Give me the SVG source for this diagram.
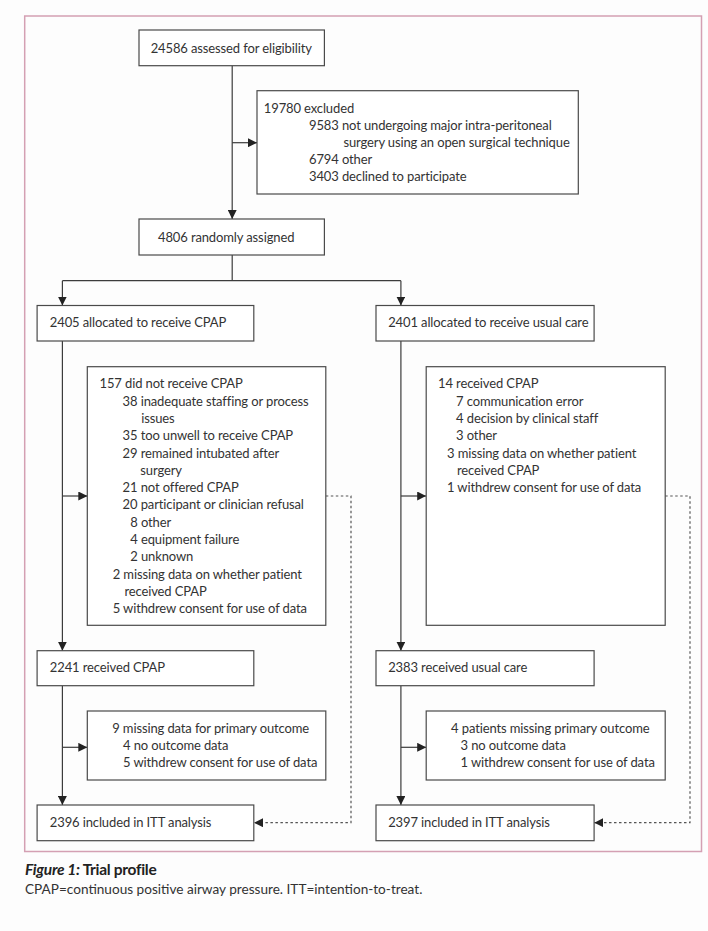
<svg xmlns="http://www.w3.org/2000/svg" width="708" height="931" viewBox="0 0 708 931">
<defs>
<style>
.box{fill:#ffffff;stroke:#4a4a4a;stroke-width:1.2}
.t{font-family:"Lato","Liberation Sans",sans-serif;font-size:13px;fill:#333333;letter-spacing:-0.12px}
.ln{fill:none;stroke:#3c3c3c;stroke-width:1.2}
.ds{fill:none;stroke:#555555;stroke-width:1.2;stroke-dasharray:2.5 2.5}
.cap{font-family:"Lato","Liberation Sans",sans-serif;font-size:13.6px;fill:#333333}
.ttl{font-family:"Lato","Liberation Sans",sans-serif;font-size:15.5px;font-weight:bold;fill:#222222;letter-spacing:-0.3px}
</style>
<marker id="ah" markerUnits="userSpaceOnUse" viewBox="0 0 9 9" refX="9" refY="4.5" markerWidth="9" markerHeight="9" orient="auto">
<path d="M0,0 L9,4.5 L0,9 Z" fill="#222222"/>
</marker>
</defs>
<rect x="0" y="0" width="708" height="931" fill="#fdfdfd"/>
<rect x="24.7" y="16" width="676.8" height="835.5" fill="#fdfdfd" stroke="#d4a0b3" stroke-width="1.5"/>

<g id="connectors">
<path class="ln" d="M232.2 65.7 V219" marker-end="url(#ah)"/>
<path class="ln" d="M232.2 142.7 H257" marker-end="url(#ah)"/>
<path class="ln" d="M232.2 255 V280.7 M62.4 280.7 H400.9"/>
<path class="ln" d="M62.4 280.7 V305.5" marker-end="url(#ah)"/>
<path class="ln" d="M400.9 280.7 V305.5" marker-end="url(#ah)"/>
<path class="ln" d="M62.4 341 V650.7" marker-end="url(#ah)"/>
<path class="ln" d="M62.4 496 H87.3" marker-end="url(#ah)"/>
<path class="ln" d="M62.4 685.7 V805" marker-end="url(#ah)"/>
<path class="ln" d="M62.4 747.3 H87.3" marker-end="url(#ah)"/>
<path class="ln" d="M400.9 341 V650.7" marker-end="url(#ah)"/>
<path class="ln" d="M400.9 496 H426.2" marker-end="url(#ah)"/>
<path class="ln" d="M400.9 685.7 V805" marker-end="url(#ah)"/>
<path class="ln" d="M400.9 747.3 H426.2" marker-end="url(#ah)"/>
<path class="ds" d="M325.8 496 H351 V822.7 H254" marker-end="url(#ah)"/>
<path class="ds" d="M665.2 496 H690 V822.7 H594.3" marker-end="url(#ah)"/>
</g>

<g id="assessed">
<rect class="box" x="139" y="30" width="185.4" height="35.7"/>
<text class="t" x="150.7" y="53">24586 assessed for eligibility</text>
</g>

<g id="excluded">
<rect class="box" x="257" y="90.7" width="321.3" height="103.3"/>
<text class="t" x="263.8" y="112.5">19780 excluded</text>
<text class="t" x="309" y="129.5">9583 not undergoing major intra-peritoneal</text>
<text class="t" x="343.4" y="146.5">surgery using an open surgical technique</text>
<text class="t" x="309" y="163.5">6794 other</text>
<text class="t" x="309" y="180.5">3403 declined to participate</text>
</g>

<g id="randomised">
<rect class="box" x="139" y="219" width="185.4" height="36"/>
<text class="t" x="158" y="241.7">4806 randomly assigned</text>
</g>

<g id="alloc-cpap">
<rect class="box" x="37.1" y="305.5" width="216.7" height="35.5"/>
<text class="t" x="49.8" y="326.7">2405 allocated to receive CPAP</text>
</g>

<g id="alloc-usual">
<rect class="box" x="376" y="305.5" width="218.1" height="35.5"/>
<text class="t" x="388.2" y="326.7">2401 allocated to receive usual care</text>
</g>

<g id="not-received">
<rect class="box" x="87.3" y="366.7" width="238.5" height="258.6"/>
<text class="t" x="99.5" y="388.3">157 did not receive CPAP</text>
<text class="t" x="122.6" y="405.6">38 inadequate staffing or process</text>
<text class="t" x="141.2" y="422.9">issues</text>
<text class="t" x="122.6" y="440.2">35 too unwell to receive CPAP</text>
<text class="t" x="122.6" y="457.5">29 remained intubated after</text>
<text class="t" x="140.3" y="474.8">surgery</text>
<text class="t" x="122.6" y="492.1">21 not offered CPAP</text>
<text class="t" x="122.6" y="509.4">20 participant or clinician refusal</text>
<text class="t" x="130.3" y="526.7">8 other</text>
<text class="t" x="130.3" y="544">4 equipment failure</text>
<text class="t" x="130.3" y="561.3">2 unknown</text>
<text class="t" x="112.7" y="578.6">2 missing data on whether patient</text>
<text class="t" x="124.4" y="595.9">received CPAP</text>
<text class="t" x="112.7" y="613.2">5 withdrew consent for use of data</text>
</g>

<g id="received-usual-cpap">
<rect class="box" x="426.2" y="366.7" width="239" height="258.6"/>
<text class="t" x="438" y="388.3">14 received CPAP</text>
<text class="t" x="456.1" y="405.6">7 communication error</text>
<text class="t" x="456.1" y="422.9">4 decision by clinical staff</text>
<text class="t" x="456.1" y="440.2">3 other</text>
<text class="t" x="447" y="457.5">3 missing data on whether patient</text>
<text class="t" x="457" y="474.8">received CPAP</text>
<text class="t" x="447" y="492.1">1 withdrew consent for use of data</text>
</g>

<g id="received-cpap">
<rect class="box" x="37.1" y="650.7" width="216.7" height="35"/>
<text class="t" x="49.8" y="671.7">2241 received CPAP</text>
</g>

<g id="received-usual">
<rect class="box" x="376" y="650.7" width="218.1" height="35"/>
<text class="t" x="388.2" y="671.7">2383 received usual care</text>
</g>

<g id="missing-cpap">
<rect class="box" x="87.3" y="711" width="238.5" height="69"/>
<text class="t" x="112.2" y="732.7">9 missing data for primary outcome</text>
<text class="t" x="123.1" y="750">4 no outcome data</text>
<text class="t" x="123.1" y="767.3">5 withdrew consent for use of data</text>
</g>

<g id="missing-usual">
<rect class="box" x="426.2" y="711" width="239" height="69"/>
<text class="t" x="451.1" y="732.7">4 patients missing primary outcome</text>
<text class="t" x="460.6" y="750">3 no outcome data</text>
<text class="t" x="460.6" y="767.3">1 withdrew consent for use of data</text>
</g>

<g id="itt-cpap">
<rect class="box" x="37.1" y="805" width="216.7" height="35.7"/>
<text class="t" x="49.8" y="826.7">2396 included in ITT analysis</text>
</g>

<g id="itt-usual">
<rect class="box" x="376" y="805" width="218.1" height="35.7"/>
<text class="t" x="388.2" y="826.7">2397 included in ITT analysis</text>
</g>

<g id="caption">
<text class="ttl" x="25" y="875"><tspan font-style="italic">Figure 1:</tspan> Trial profile</text>
<text class="cap" x="25" y="894">CPAP=continuous positive airway pressure. ITT=intention-to-treat.</text>
</g>
</svg>
